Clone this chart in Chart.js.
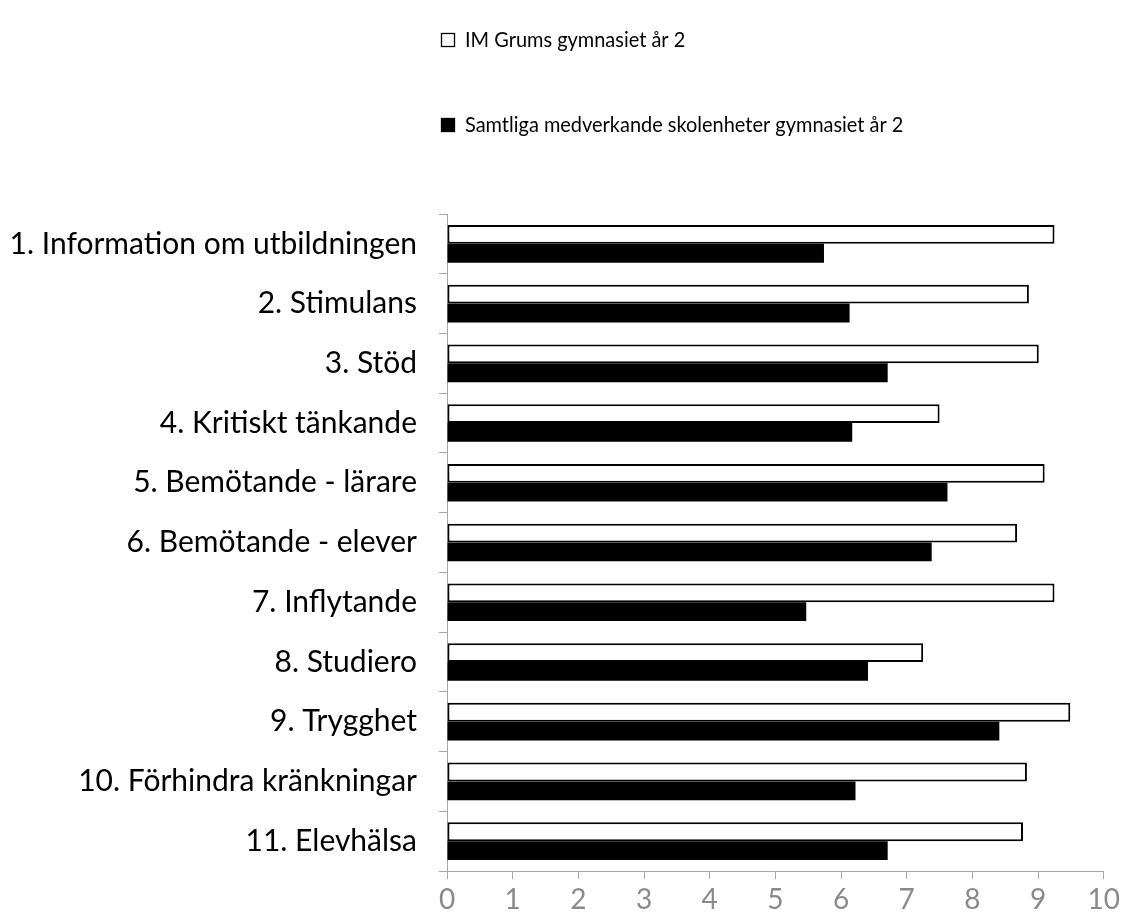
<!DOCTYPE html>
<html>
<head>
<meta charset="utf-8">
<script src="https://cdn.jsdelivr.net/npm/chart.js@4.4.1/dist/chart.umd.min.js"></script>
<style>
  html, body { margin: 0; padding: 0; background: #ffffff; }
  #wrap { width: 1124px; height: 921px; position: relative; }
</style>
</head>
<body>
<div id="wrap"><canvas id="c" width="1124" height="921"></canvas></div>
<script>
const categories = [
  "1. Information om utbildningen",
  "2. Stimulans",
  "3. Stöd",
  "4. Kritiskt tänkande",
  "5. Bemötande - lärare",
  "6. Bemötande - elever",
  "7. Inflytande",
  "8. Studiero",
  "9. Trygghet",
  "10. Förhindra kränkningar",
  "11. Elevhälsa"
];
const seriesNames = [
  "IM Grums gymnasiet år 2",
  "Samtliga medverkande skolenheter gymnasiet år 2"
];
const imGrums  = [9.25, 8.86, 9.01, 7.50, 9.10, 8.68, 9.25, 7.25, 9.49, 8.83, 8.77];
const samtliga = [5.74, 6.13, 6.71, 6.17, 7.62, 7.38, 5.47, 6.41, 8.41, 6.22, 6.71];
const xMin = 0;
const xMax = 10;
const xStep = 1;

const FONT = "Lato, 'Open Sans', sans-serif";

const stackedLegend = {
  id: 'stackedLegend',
  afterDraw(chart, args, opts) {
    const ctx = chart.ctx;
    chart.data.datasets.forEach((ds, i) => {
      const y = opts.rows[i];
      ctx.save();
      ctx.fillStyle = ds.backgroundColor;
      ctx.fillRect(opts.x, y - opts.box / 2, opts.box, opts.box);
      ctx.strokeStyle = '#000000';
      ctx.lineWidth = 1.3;
      ctx.strokeRect(opts.x + 0.5, y - opts.box / 2 + 0.5, opts.box - 1, opts.box - 1);
      ctx.font = opts.fontSize + 'px ' + FONT;
      ctx.textBaseline = 'middle';
      ctx.textAlign = 'left';
      ctx.fillStyle = '#000000';
      const tx = opts.x + opts.box + opts.gap;
      ctx.translate(tx, y);
      ctx.scale(opts.xScale, 1);
      ctx.fillText(ds.label, 0, 0);
      ctx.restore();
    });
  }
};

new Chart(document.getElementById('c'), {
  type: 'bar',
  data: {
    labels: categories,
    datasets: [
      {
        label: seriesNames[0],
        data: imGrums,
        backgroundColor: '#ffffff',
        borderColor: '#000000',
        borderWidth: 2,
        borderSkipped: false,
        categoryPercentage: 0.63,
        barPercentage: 1.0
      },
      {
        label: seriesNames[1],
        data: samtliga,
        backgroundColor: '#000000',
        borderColor: '#000000',
        borderWidth: 0,
        categoryPercentage: 0.63,
        barPercentage: 1.0
      }
    ]
  },
  plugins: [stackedLegend],
  options: {
    indexAxis: 'y',
    responsive: false,
    animation: false,
    devicePixelRatio: 1,
    layout: { padding: { top: 214, right: 18, left: 0, bottom: 0 } },
    plugins: {
      legend: { display: false },
      tooltip: { enabled: false },
      stackedLegend: { x: 441, rows: [40, 125], box: 14, gap: 10, fontSize: 21, xScale: 0.95 }
    },
    scales: {
      x: {
        type: 'linear',
        min: xMin,
        max: xMax,
        ticks: { stepSize: xStep, color: '#8a8a8a', font: { family: FONT, size: 28 }, padding: 4 },
        grid: { drawOnChartArea: false, drawTicks: true, tickLength: 8, color: '#a6a6a6' },
        border: { display: true, color: '#a6a6a6', width: 1 },
        afterFit(scale) { scale.height = 50; }
      },
      y: {
        type: 'category',
        offset: true,
        ticks: { color: '#000000', font: { family: FONT, size: 30 }, padding: 22, autoSkip: false },
        grid: { offset: true, drawOnChartArea: false, drawTicks: true, tickLength: 8, color: '#a6a6a6' },
        border: { display: true, color: '#a6a6a6', width: 1 },
        afterFit(scale) { scale.width = 447; }
      }
    }
  }
});
</script>
</body>
</html>
